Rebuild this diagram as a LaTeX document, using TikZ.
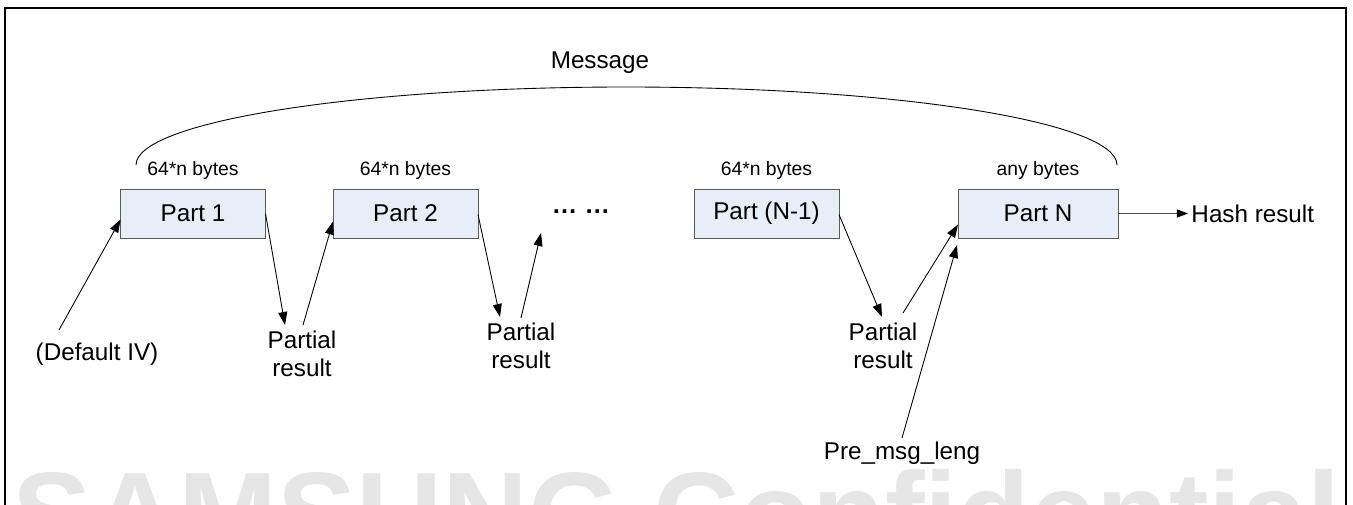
\documentclass[tikz,border=0pt]{standalone}
\usepackage{fontspec}
\setmainfont{Liberation Sans}
\setsansfont{Liberation Sans}
\usetikzlibrary{arrows.meta, calc, positioning}
\definecolor{partfill}{HTML}{E8EEF8}
\definecolor{partedge}{HTML}{5A5A5A}
\definecolor{wmgray}{HTML}{E6E6E6}
\newcommand{\blockBytes}{64*n bytes}
\newcommand{\lastBytes}{any bytes}
\newcommand{\partialText}{Partial\\result}

\begin{document}
\begin{tikzpicture}[x=0.02cm, y=-0.02cm, font=\sffamily, every node/.style={outer sep=0pt},
  partbox/.style={draw=partedge, fill=partfill, line width=0.5pt, minimum width=2.9cm,
    minimum height=0.98cm, inner sep=0pt, font=\sffamily\fontsize{13.8}{16.6}\selectfont},
  bytelabel/.style={font=\sffamily\fontsize{11}{13}\selectfont, inner sep=0pt},
  plainlabel/.style={font=\sffamily\fontsize{13.8}{15.9}\selectfont, align=center, inner sep=0pt},
  link/.style={-{Triangle[length=0.26cm, width=0.18cm]}, line width=0.5pt}]

\useasboundingbox (0,0) rectangle (1353,504);
\clip (0,0) rectangle (1353,504);

% Watermark
\node[
  font=\sffamily\bfseries\fontsize{67.7}{70}\selectfont,
  text=wmgray,
  anchor=base,
  inner sep=0pt
] (wm) at (677,555) {SAMSUNG Confidential};

% Outer frame
\draw[line width=1.2pt] (5,520) -- (5,8) -- (1346,8) -- (1346,520);

% Message span
\node[plainlabel] (msg) at (600,63) {Message};
\draw[line width=0.5pt]
  (136,165) .. controls (136,122) and (355,87) .. (626,87)
  .. controls (897,87) and (1117,122) .. (1117,165);

% Parts
\node[partbox] (p1) at (193,213.5) {Part 1};
\node[partbox] (p2) at (405.5,213.5) {Part 2};
\node[plainlabel, font=\sffamily\bfseries\fontsize{14.5}{16}\selectfont] (dots) at (581,212) {…\ …};
\node[partbox] (pN1) at (766.5,213.5) {Part (N-1)};
\node[partbox, minimum width=3.2cm] (pN) at (1038,213.5) {Part N};

% Size labels
\node[bytelabel, above=0.2cm of p1] (b1) {\blockBytes};
\node[bytelabel, above=0.2cm of p2] (b2) {\blockBytes};
\node[bytelabel, above=0.2cm of pN1] (bN1) {\blockBytes};
\node[bytelabel, above=0.2cm of pN] (bN) {\lastBytes};

% Inputs and partial results
\node[plainlabel] (iv) at (97,354) {(Default IV)};
\node[plainlabel] (pr1) at (302,354) {\partialText};
\node[plainlabel] (pr2) at (521,346) {\partialText};
\node[plainlabel] (pr3) at (883,346) {\partialText};
\node[plainlabel] (pml) at (902,453) {Pre\_msg\_leng};
\node[plainlabel, inner sep=2pt, right=1.4cm of pN] (hash) {Hash result};
\coordinate (gapend) at ($(dots)+(-40,21)$);

% Chaining arrows
\draw[link] ($(iv)+(-38,-24)$) -- ($(p1.west)+(0,6)$);
\draw[link] (p1.east) -- ($(pr1)+(-17,-29)$);
\draw[link] ($(pr1)+(1,-29)$) -- ($(p2.west)+(0,8)$);
\draw[link] ($(p2.east)+(0,1)$) -- ($(pr2)+(-21,-29)$);
\draw[link] ($(pr2)+(0,-28)$) -- (gapend);
\draw[link] ($(pN1.east)+(0,1)$) -- ($(pr3)+(-1,-29)$);
\draw[link] ($(pr3)+(20,-33)$) -- ($(pN.west)+(0,11)$);
\draw[link] ($(pml)+(0,-15)$) -- ($(pN.south west)+(-1,7)$);
\draw[-{Triangle[length=0.22cm, width=0.16cm, color=black]}, line width=0.5pt, draw=black!70]
  (pN.east) -- (hash.west);

\end{tikzpicture}
\end{document}
